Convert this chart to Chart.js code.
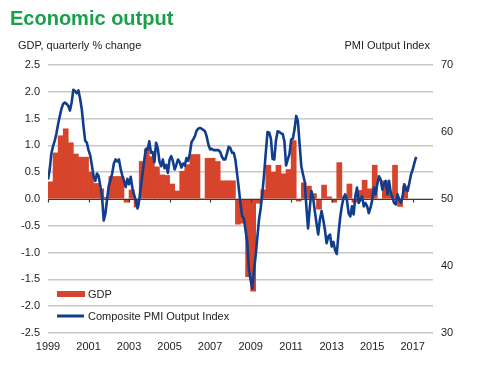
<!DOCTYPE html>
<html><head><meta charset="utf-8">
<script src="https://cdn.jsdelivr.net/npm/chart.js@4.4.1/dist/chart.umd.min.js"></script>
<style>
html,body{margin:0;padding:0;background:#fff;}
#wrap{position:relative;width:488px;height:370px;font-family:"Liberation Sans",Arial,sans-serif;overflow:hidden;}
canvas{position:absolute;left:0;top:0;}
.t{position:absolute;white-space:pre;line-height:normal;}
#title{left:10px;top:7px;font-size:20px;font-weight:bold;color:#19a049;}
#ly{left:18px;top:39px;font-size:11px;color:#222;}
#ry{right:58px;top:39px;font-size:11px;color:#222;}
</style></head><body>
<div id="wrap">
<canvas id="c" width="488" height="370"></canvas>
<div class="t" id="title">Economic output</div>
<div class="t" id="ly">GDP, quarterly % change</div>
<div class="t" id="ry">PMI Output Index</div>
</div>
<script>
// ---- data ----
const yearTicks = [1999, 2001, 2003, 2005, 2007, 2009, 2011, 2013, 2015, 2017];
const gdpLabel = 'GDP';
const pmiLabel = 'Composite PMI Output Index';
const gdpFirstYear = 1999; // quarterly, starting 1999 Q1
const gdpValues = [
  0.32, 0.86, 1.18, 1.31,
  1.05, 0.84, 0.78, 0.78,
  0.50, 0.29, 0.19, 0.03,
  0.42, 0.42, 0.42, -0.06,
  0.17, -0.15, 0.70, 0.92,
  0.79, 0.60, 0.45, 0.44,
  0.28, 0.15, 0.52, 0.64,
  0.83, 0.83, 0.00, 0.76,
  0.76, 0.70, 0.34, 0.34,
  0.34, -0.47, -0.45, -1.45,
  -1.72, -0.08, 0.17, 0.63,
  0.50, 0.63, 0.47, 0.55,
  1.09, -0.04, 0.30, 0.24,
  0.10, -0.19, 0.26, 0.04,
  -0.06, 0.68, 0.02, 0.28,
  -0.06, 0.16, 0.35, 0.19,
  0.63, -0.01, 0.34, 0.14,
  0.63, -0.14, 0.24
];
const pmiFirstYear = 1999; // monthly, starting Jan 1999
const pmiValues = [
  52.9, 54.4, 56.8, 57.9, 58.7, 59.8, 61.2, 62.4, 63.5, 64.2, 64.4, 64.2,
  63.9, 63.2, 64.4, 66.3, 66.1, 65.8, 66.2, 65.0, 63.4, 60.9, 58.7, 58.4,
  57.3, 56.5, 55.0, 53.4, 52.7, 53.8, 53.4, 51.9, 50.4, 46.8, 47.8, 50.0,
  52.0, 52.8, 53.8, 55.3, 55.9, 55.6, 55.9, 54.5, 53.5, 52.7, 51.8, 53.0,
  52.2, 53.3, 51.6, 50.6, 49.8, 48.6, 49.8, 51.8, 53.8, 55.8, 57.5, 57.4,
  58.6, 56.9, 57.0, 55.5, 58.4, 57.6, 55.6, 54.9, 55.9, 54.6, 55.1, 53.9,
  55.9, 56.4, 55.6, 54.4, 55.1, 55.9, 55.5, 54.7, 55.3, 55.0, 56.1, 55.7,
  56.8, 58.5, 58.9, 59.4, 60.2, 60.5, 60.6, 60.5, 60.3, 60.1, 59.3, 58.1,
  57.4, 57.5, 57.3, 57.3, 57.3, 57.3, 57.0, 56.3, 55.9, 55.9, 56.8, 57.8,
  57.6, 56.9, 56.9, 55.8, 53.7, 51.6, 49.2, 47.4, 47.1, 45.3, 43.6, 39.4,
  37.9, 36.6, 39.4, 41.6, 44.4, 47.0, 48.7, 51.0, 53.8, 57.0, 60.0, 59.9,
  59.0, 56.0, 55.9, 58.7, 60.1, 60.0, 59.8, 59.7, 58.6, 55.0, 55.9, 56.7,
  58.9, 59.0, 60.4, 62.4, 61.6, 58.2, 54.9, 53.7, 52.6, 48.9, 45.6, 48.6,
  51.2, 50.2, 48.2, 46.4, 44.7, 46.9, 48.2, 46.9, 45.4, 43.4, 44.4, 44.7,
  42.9, 43.6, 42.4, 41.8, 44.7, 47.2, 48.9, 50.2, 50.7, 49.9, 47.9, 47.4,
  48.9, 47.7, 50.4, 51.7, 49.4, 49.9, 50.4, 48.9, 49.4, 48.9, 47.9, 48.7,
  49.9, 51.7, 50.7, 52.2, 53.4, 52.9, 51.4, 52.2, 52.7, 50.7, 52.7, 50.9,
  50.2, 49.4, 49.2, 50.7, 49.9, 49.4, 50.4, 52.2, 51.4, 51.2, 52.4, 53.7,
  54.4, 55.4, 56.3
];

// ---- styles ----
const BAR_COLOR = '#d6452b';
const LINE_COLOR = '#103d8c';
const TEXT_COLOR = '#222';
const FONT = '"Liberation Sans", Arial, sans-serif';
Chart.defaults.font.family = FONT;
Chart.defaults.font.size = 11;
Chart.defaults.color = TEXT_COLOR;

const gdpData = gdpValues.map((v, i) => ({x: gdpFirstYear + i / 4 + 0.125, y: v}));
const pmiData = pmiValues.map((v, i) => ({x: pmiFirstYear + i / 12, y: v}));

const zeroLinePlugin = {
  id: 'zeroLine',
  afterDatasetDraw(chart, args) {
    if (args.meta.type !== 'bar') return;
    const ctx = chart.ctx, ca = chart.chartArea;
    const y0 = Math.round(chart.scales.y.getPixelForValue(0)) + 0.5;
    ctx.save();
    ctx.strokeStyle = '#3a3a3a';
    ctx.lineWidth = 1.2;
    ctx.beginPath();
    ctx.moveTo(ca.left, y0); ctx.lineTo(ca.right, y0);
    yearTicks.forEach(v => {
      const x = Math.round(chart.scales.x.getPixelForValue(v)) + 0.5;
      ctx.moveTo(x, y0); ctx.lineTo(x, y0 + 3);
    });
    ctx.stroke();
    ctx.restore();
  }
};

const legendPlugin = {
  id: 'insideLegend',
  afterDraw(chart) {
    const ctx = chart.ctx, ca = chart.chartArea;
    const ds = chart.data.datasets;
    const x0 = ca.left + 9, tx = ca.left + 40;
    ctx.save();
    ctx.font = '11px ' + FONT;
    ctx.textBaseline = 'alphabetic';
    ctx.fillStyle = ds[1].backgroundColor;
    ctx.fillRect(x0, 291, 28, 6);
    ctx.fillStyle = TEXT_COLOR;
    ctx.fillText(ds[1].label, tx, 298);
    ctx.strokeStyle = ds[0].borderColor;
    ctx.lineWidth = 3;
    ctx.beginPath();
    ctx.moveTo(x0, 316); ctx.lineTo(x0 + 27, 316);
    ctx.stroke();
    ctx.fillText(ds[0].label, tx, 320);
    ctx.restore();
  }
};

new Chart(document.getElementById('c'), {
  type: 'bar',
  data: {
    datasets: [
      {
        type: 'line', label: pmiLabel, data: pmiData, yAxisID: 'y2',
        borderColor: LINE_COLOR, borderWidth: 2.6, pointRadius: 0, tension: 0,
        borderJoinStyle: 'round', order: 1
      },
      {
        type: 'bar', label: gdpLabel, data: gdpData, yAxisID: 'y',
        backgroundColor: BAR_COLOR, borderWidth: 0,
        barPercentage: 1, categoryPercentage: 1, order: 2
      }
    ]
  },
  options: {
    responsive: false, animation: false, devicePixelRatio: 1,
    layout: {padding: {top: 65, left: 0, right: 0, bottom: 0}},
    plugins: {legend: {display: false}, tooltip: {enabled: false}},
    scales: {
      x: {
        type: 'linear', min: 1999, max: 2018, offset: false,
        grid: {display: false, drawTicks: false, offset: false},
        border: {display: false},
        afterBuildTicks: a => { a.ticks = yearTicks.map(v => ({value: v})); },
        ticks: {callback: v => String(v), padding: 7, maxRotation: 0, autoSkip: false},
        afterFit: s => { s.height = 37; }
      },
      y: {
        position: 'left', min: -2.5, max: 2.5,
        ticks: {stepSize: 0.5, callback: v => v.toFixed(1), padding: 8},
        grid: {color: '#c8c8c8', lineWidth: 1.5, drawTicks: false},
        border: {display: false},
        afterFit: s => { s.width = 48; }
      },
      y2: {
        position: 'right', min: 30, max: 70,
        ticks: {stepSize: 10, padding: 8},
        grid: {display: false, drawTicks: false},
        border: {display: false},
        afterFit: s => { s.width = 55; }
      }
    }
  },
  plugins: [zeroLinePlugin, legendPlugin]
});
</script>
</body></html>
